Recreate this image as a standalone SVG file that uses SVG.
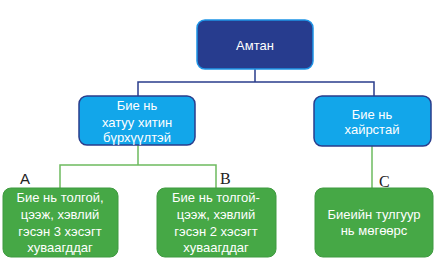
<svg xmlns="http://www.w3.org/2000/svg" width="439" height="264" viewBox="0 0 439 264">
<style>
.root{fill:#273c8e;stroke:#1e94e6;stroke-width:1.5}
.blue{fill:#12a6ea;stroke:#2a3d8c;stroke-width:1.5}
.green{fill:#46a846;stroke:#3f9a40;stroke-width:1}
.t{font-family:"Liberation Sans",Arial,sans-serif;font-size:13px;fill:#ffffff;text-anchor:middle}
.lbl{font-family:"Liberation Serif","Times New Roman",serif;font-size:16px;fill:#222222}
.cb{fill:none;stroke:#2a3d8c;stroke-width:1.5}
.cg{fill:none;stroke:#6dbb5f;stroke-width:1.5}
</style>
<rect width="439" height="264" fill="#ffffff"/>
<g id="connectors">
<path class="cb" d="M255 69 V82 M138 97 V82 H374 V97"/>
<path class="cg" d="M138 145 V165 M60 188 V165 H216 V188"/>
<path class="cg" d="M372 146 V188"/>
</g>
<g id="root">
<rect class="root" x="197" y="20" width="116" height="49" rx="8"/>
<text class="t" x="255" y="50">Амтан</text>
</g>
<g id="n1">
<rect class="blue" x="79" y="96" width="116" height="49" rx="8"/>
<text class="t" x="137" y="110">Бие нь</text>
<text class="t" x="137" y="127">хатуу хитин</text>
<text class="t" x="137" y="142">бүрхүүлтэй</text>
</g>
<g id="n2">
<rect class="blue" x="314" y="96" width="117" height="50" rx="8"/>
<text class="t" x="372" y="119">Бие нь</text>
<text class="t" x="372" y="134">хайрстай</text>
</g>
<g id="a">
<rect class="green" x="3" y="188" width="115" height="69" rx="8"/>
<text class="t" x="60" y="202">Бие нь толгой,</text>
<text class="t" x="60" y="219">цээж, хэвлий</text>
<text class="t" x="60" y="236">гэсэн 3 хэсэгт</text>
<text class="t" x="60" y="252">хуваагддаг</text>
<text x="20" y="184" style="font-family:'Liberation Sans',Arial,sans-serif;font-size:15px;fill:#222222">A</text>
</g>
<g id="b">
<rect class="green" x="157" y="188" width="119" height="69" rx="8"/>
<text class="t" x="216" y="202">Бие нь толгой-</text>
<text class="t" x="216" y="219">цээж, хэвлий</text>
<text class="t" x="216" y="236">гэсэн 2 хэсэгт</text>
<text class="t" x="216" y="252">хуваагддаг</text>
<text class="lbl" x="220" y="184">B</text>
</g>
<g id="c">
<rect class="green" x="315" y="188" width="118" height="69" rx="8"/>
<text class="t" x="374" y="219">Биеийн тулгуур</text>
<text class="t" x="374" y="235">нь мөгөөрс</text>
<text class="lbl" x="379" y="187">C</text>
</g>
</svg>
